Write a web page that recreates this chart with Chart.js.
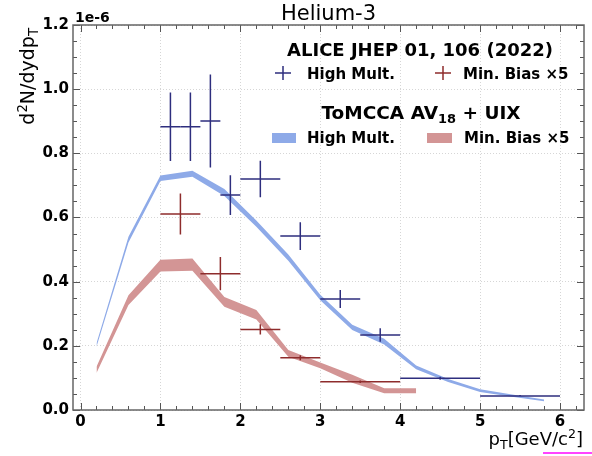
<!DOCTYPE html>
<html>
<head>
<meta charset="utf-8">
<script src="https://cdn.jsdelivr.net/npm/chart.js@4.4.1/dist/chart.umd.min.js"></script>
<style>
  html, body { margin: 0; padding: 0; background: #fff; }
  #wrap { width: 592px; height: 456px; }
</style>
</head>
<body>
<div id="wrap"><canvas id="grafico_helio3" width="592" height="456"></canvas></div>
<script>
// valores em unidades de 1e-6
const hmX = [1.125, 1.375, 1.625, 1.875, 2.25, 2.75, 3.25, 3.75, 4.5, 5.5]
const hmXerr = [0.125, 0.125, 0.125, 0.125, 0.25, 0.25, 0.25, 0.25, 0.5, 0.5]
const hmY = [0.883, 0.883, 0.901, 0.670, 0.720, 0.542, 0.346, 0.234, 0.099, 0.044]
const hmYerr = [0.107, 0.107, 0.145, 0.062, 0.057, 0.043, 0.028, 0.021, 0.005, 0.003]

const mbX = [1.25, 1.75, 2.25, 2.75, 3.5]
const mbXerr = [0.25, 0.25, 0.25, 0.25, 0.5]
const mbY = [0.611, 0.425, 0.251, 0.163, 0.088]
const mbYerr = [0.064, 0.052, 0.016, 0.008, 0.004]

const hmBandX = [0.2, 0.6, 1.0, 1.4, 1.8, 2.2, 2.6, 3.0, 3.4, 3.8, 4.2, 4.6, 5.0, 5.4, 5.8]
const hmBandLow = [0.197, 0.522, 0.714, 0.727, 0.667, 0.571, 0.465, 0.342, 0.249, 0.204, 0.127, 0.087, 0.056, 0.041, 0.027]
const hmBandHigh = [0.208, 0.540, 0.731, 0.746, 0.689, 0.591, 0.485, 0.359, 0.266, 0.222, 0.139, 0.097, 0.065, 0.048, 0.033]

const mbBandX = [0.2, 0.6, 1.0, 1.4, 1.8, 2.2, 2.6, 3.0, 3.4, 3.8, 4.2]
const mbBandLow = [0.115, 0.327, 0.432, 0.434, 0.322, 0.282, 0.166, 0.130, 0.085, 0.052, 0.052]
const mbBandHigh = [0.135, 0.358, 0.468, 0.472, 0.352, 0.312, 0.187, 0.148, 0.110, 0.068, 0.068]

const xTicks = [0, 1, 2, 3, 4, 5, 6]
const yTicks = [0.0, 0.2, 0.4, 0.6, 0.8, 1.0, 1.2]

const corHM = '#2e2e7e'
const corMB = '#8e2c2c'
const corBandaHM = '#8eaae8'
const corBandaMB = '#d39595'
const FONTE = "'DejaVu Sans', sans-serif"

const pontos = (xs, ys) => xs.map((x, i) => ({ x, y: ys[i] }))

const banda = (xs, alto, baixo, cor) => [
    { data: pontos(xs, alto), borderWidth: 0, pointRadius: 0, tension: 0, backgroundColor: cor, fill: '+1' },
    { data: pontos(xs, baixo), borderWidth: 0, pointRadius: 0, tension: 0, backgroundColor: cor, fill: false }
]

// texto com sub/sobrescrito: partes = [[texto, 'n'|'sub'|'sup'], ...]
const medirRico = (ctx, partes, tam, peso) => {
    let w = 0
    partes.forEach(([t, k]) => {
        ctx.font = `${peso} ${k === 'n' ? tam : tam * 0.7}px ${FONTE}`
        w += ctx.measureText(t).width
    })
    return w
}
const desenharRico = (ctx, partes, x, y, tam, peso, alinhar) => {
    const w = medirRico(ctx, partes, tam, peso)
    let cx = alinhar === 'right' ? x - w : alinhar === 'center' ? x - w / 2 : x
    ctx.textAlign = 'left'
    ctx.textBaseline = 'alphabetic'
    partes.forEach(([t, k]) => {
        ctx.font = `${peso} ${k === 'n' ? tam : tam * 0.7}px ${FONTE}`
        const dy = k === 'sub' ? tam * 0.22 : k === 'sup' ? -tam * 0.38 : 0
        ctx.fillText(t, cx, y + dy)
        cx += ctx.measureText(t).width
    })
}

const cruz = (ctx, x, y, dx, dy) => {
    ctx.beginPath()
    ctx.moveTo(x - dx, y); ctx.lineTo(x + dx, y)
    ctx.moveTo(x, y - dy); ctx.lineTo(x, y + dy)
    ctx.stroke()
}

const barrasDeErro = {
    id: 'barrasDeErro',
    afterDatasetsDraw(chart) {
        const { ctx, scales: { x, y } } = chart
        ctx.save()
        ctx.lineWidth = 1.5
        const series = [[hmX, hmXerr, hmY, hmYerr, corHM], [mbX, mbXerr, mbY, mbYerr, corMB]]
        series.forEach(([xs, xe, ys, ye, cor]) => {
            ctx.strokeStyle = cor
            xs.forEach((v, i) => {
                const px = x.getPixelForValue(v), py = y.getPixelForValue(ys[i])
                ctx.beginPath()
                ctx.moveTo(x.getPixelForValue(v - xe[i]), py)
                ctx.lineTo(x.getPixelForValue(v + xe[i]), py)
                ctx.moveTo(px, y.getPixelForValue(ys[i] + ye[i]))
                ctx.lineTo(px, y.getPixelForValue(ys[i] - ye[i]))
                ctx.stroke()
            })
        })
        ctx.restore()
    }
}

const molduraETextos = {
    id: 'molduraETextos',
    afterDraw(chart) {
        const { ctx, chartArea: a, scales: { x, y } } = chart
        ctx.save()
        // marcas internas nos quatro lados
        ctx.strokeStyle = '#555'
        ctx.lineWidth = 1
        for (let i = 0; i <= 31; i++) {
            const v = i * 0.2
            const px = Math.round(x.getPixelForValue(v)) + 0.5
            const len = i % 5 === 0 ? 7 : 4
            ctx.beginPath()
            ctx.moveTo(px, a.bottom); ctx.lineTo(px, a.bottom - len)
            ctx.moveTo(px, a.top); ctx.lineTo(px, a.top + len)
            ctx.stroke()
        }
        for (let i = 0; i <= 24; i++) {
            const v = i * 0.05
            const py = Math.round(y.getPixelForValue(v)) + 0.5
            const len = i % 4 === 0 ? 7 : 4
            ctx.beginPath()
            ctx.moveTo(a.left, py); ctx.lineTo(a.left + len, py)
            ctx.moveTo(a.right, py); ctx.lineTo(a.right - len, py)
            ctx.stroke()
        }
        ctx.strokeStyle = '#666'
        ctx.lineWidth = 1.5
        ctx.strokeRect(a.left, a.top, a.right - a.left, a.bottom - a.top)

        ctx.fillStyle = '#000'
        // titulo
        ctx.font = `21px ${FONTE}`
        ctx.textAlign = 'center'
        ctx.textBaseline = 'alphabetic'
        ctx.fillText('Helium-3', (a.left + a.right) / 2, 20)
        // fator de escala
        ctx.font = `bold 14px ${FONTE}`
        ctx.textAlign = 'left'
        ctx.fillText('1e-6', a.left + 2, 22)

        // rotulo do eixo y
        ctx.save()
        ctx.translate(34, 28)
        ctx.rotate(-Math.PI / 2)
        desenharRico(ctx, [['d', 'n'], ['2', 'sup'], ['N/dydp', 'n'], ['T', 'sub']], 0, 0, 19, 'normal', 'right')
        ctx.restore()

        // rotulo do eixo x
        desenharRico(ctx, [['p', 'n'], ['T', 'sub'], ['[GeV/c', 'n'], ['2', 'sup'], [']', 'n']], 583, 445, 18, 'normal', 'right')
        ctx.fillStyle = '#ff44ff'
        ctx.fillRect(543, 452, 49, 2)

        // legenda
        ctx.fillStyle = '#000'
        desenharRico(ctx, [['ALICE JHEP 01, 106 (2022)', 'n']], 420, 56, 18, 'bold', 'center')
        ctx.lineWidth = 1.5
        ctx.strokeStyle = corHM
        cruz(ctx, 283, 73, 8, 7)
        ctx.strokeStyle = corMB
        cruz(ctx, 443, 73, 8, 7)
        desenharRico(ctx, [['High Mult.', 'n']], 307, 79, 15, 'bold', 'left')
        desenharRico(ctx, [['Min. Bias \u00d75', 'n']], 463, 79, 15, 'bold', 'left')

        desenharRico(ctx, [['ToMCCA AV', 'n'], ['18', 'sub'], [' + UIX', 'n']], 421, 119, 18.5, 'bold', 'center')
        ctx.fillStyle = corBandaHM
        ctx.fillRect(272, 133, 24, 10)
        ctx.fillStyle = corBandaMB
        ctx.fillRect(427, 133, 25, 10)
        ctx.fillStyle = '#000'
        desenharRico(ctx, [['High Mult.', 'n']], 307, 143, 15, 'bold', 'left')
        desenharRico(ctx, [['Min. Bias \u00d75', 'n']], 464, 143, 15, 'bold', 'left')
        ctx.restore()
    }
}

const criarGrafico = () => {
    const ctx = document.querySelector('#grafico_helio3')
    new Chart(ctx, {
        type: 'line',
        data: {
            datasets: [
                ...banda(hmBandX, hmBandHigh, hmBandLow, corBandaHM),
                ...banda(mbBandX, mbBandHigh, mbBandLow, corBandaMB)
            ]
        },
        options: {
            responsive: false,
            animation: false,
            devicePixelRatio: 1,
            layout: { padding: { top: 25, right: 8, left: 0, bottom: 0 } },
            plugins: { legend: { display: false }, tooltip: { enabled: false } },
            scales: {
                x: {
                    type: 'linear', min: -0.094, max: 6.3,
                    afterBuildTicks: s => { s.ticks = xTicks.map(value => ({ value })) },
                    afterFit: s => { s.height = 46 },
                    grid: { color: '#d6d6d6', drawTicks: false },
                    border: { display: false, dash: [1, 2] },
                    ticks: { padding: 3, color: '#000', font: { family: 'DejaVu Sans', size: 15, weight: 'bold' } }
                },
                y: {
                    type: 'linear', min: 0, max: 1.2,
                    afterBuildTicks: s => { s.ticks = yTicks.map(value => ({ value })) },
                    afterFit: s => { s.width = 73 },
                    grid: { color: '#d6d6d6', drawTicks: false },
                    border: { display: false, dash: [1, 2] },
                    ticks: {
                        padding: 4, color: '#000',
                        font: { family: 'DejaVu Sans', size: 15, weight: 'bold' },
                        callback: v => v.toFixed(1)
                    }
                }
            }
        },
        plugins: [barrasDeErro, molduraETextos]
    })
}

criarGrafico()
</script>
</body>
</html>
